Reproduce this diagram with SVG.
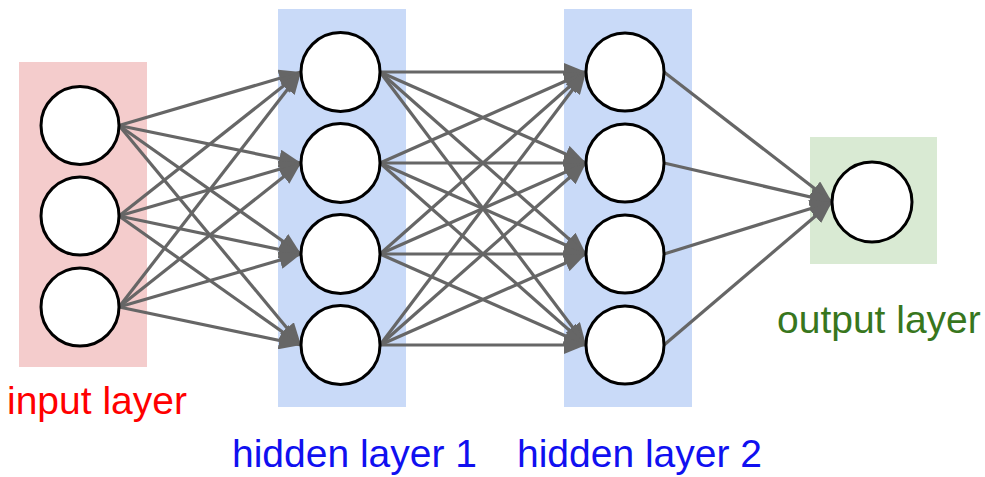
<svg xmlns="http://www.w3.org/2000/svg" width="985" height="477" viewBox="0 0 985 477">
<style>
.n{fill:#fff;stroke:#000;stroke-width:3}
.c line{stroke:#666;stroke-width:3.2;marker-end:url(#ah)}
.t{font-family:"Liberation Sans",Arial,sans-serif;font-size:39px}
</style>
<defs>
<marker id="ah" markerUnits="userSpaceOnUse" markerWidth="22" markerHeight="18" refX="22" refY="9" orient="auto" viewBox="0 0 22 18">
<path d="M0,0 L22,9 L0,18 z" fill="#666"/>
</marker>
</defs>
<rect width="985" height="477" fill="#fff"/>
<g id="layer-input"><rect x="19" y="62" width="128" height="305" fill="#f4cccc"/><text class="t" x="7" y="414" fill="#ff0000">input layer</text></g>
<g id="layer-hidden1"><rect x="278" y="9" width="128" height="398" fill="#c9daf8"/><text class="t" x="232" y="467" fill="#1010f0">hidden layer 1</text></g>
<g id="layer-hidden2"><rect x="564" y="9" width="128" height="398" fill="#c9daf8"/><text class="t" x="517" y="467" fill="#1010f0">hidden layer 2</text></g>
<g id="layer-output"><rect x="810" y="137" width="127" height="127" fill="#d9ead3"/><text class="t" x="777" y="333" fill="#38761d">output layer</text></g>
<g id="connectors" class="c">
<line x1="119" y1="125.5" x2="301" y2="72"/><line x1="119" y1="125.5" x2="301" y2="163"/><line x1="119" y1="125.5" x2="301" y2="254"/><line x1="119" y1="125.5" x2="301" y2="345"/>
<line x1="119" y1="216" x2="301" y2="72"/><line x1="119" y1="216" x2="301" y2="163"/><line x1="119" y1="216" x2="301" y2="254"/><line x1="119" y1="216" x2="301" y2="345"/>
<line x1="119" y1="307" x2="301" y2="72"/><line x1="119" y1="307" x2="301" y2="163"/><line x1="119" y1="307" x2="301" y2="254"/><line x1="119" y1="307" x2="301" y2="345"/>
<line x1="380" y1="72" x2="586" y2="72"/><line x1="380" y1="72" x2="586" y2="163"/><line x1="380" y1="72" x2="586" y2="254"/><line x1="380" y1="72" x2="586" y2="345"/>
<line x1="380" y1="163" x2="586" y2="72"/><line x1="380" y1="163" x2="586" y2="163"/><line x1="380" y1="163" x2="586" y2="254"/><line x1="380" y1="163" x2="586" y2="345"/>
<line x1="380" y1="254" x2="586" y2="72"/><line x1="380" y1="254" x2="586" y2="163"/><line x1="380" y1="254" x2="586" y2="254"/><line x1="380" y1="254" x2="586" y2="345"/>
<line x1="380" y1="345" x2="586" y2="72"/><line x1="380" y1="345" x2="586" y2="163"/><line x1="380" y1="345" x2="586" y2="254"/><line x1="380" y1="345" x2="586" y2="345"/>
<line x1="664" y1="72" x2="832" y2="202"/><line x1="664" y1="163" x2="832" y2="202"/><line x1="664" y1="254" x2="832" y2="202"/><line x1="664" y1="345" x2="832" y2="202"/>
</g>
<g id="in1"><circle class="n" cx="80" cy="125.5" r="39"/></g>
<g id="in2"><circle class="n" cx="80" cy="216" r="39"/></g>
<g id="in3"><circle class="n" cx="80" cy="307" r="39"/></g>
<g id="h1a"><circle class="n" cx="340.5" cy="72" r="39.5"/></g>
<g id="h1b"><circle class="n" cx="340.5" cy="163" r="39.5"/></g>
<g id="h1c"><circle class="n" cx="340.5" cy="254" r="39.5"/></g>
<g id="h1d"><circle class="n" cx="340.5" cy="345" r="39.5"/></g>
<g id="h2a"><circle class="n" cx="625" cy="72" r="39"/></g>
<g id="h2b"><circle class="n" cx="625" cy="163" r="39"/></g>
<g id="h2c"><circle class="n" cx="625" cy="254" r="39"/></g>
<g id="h2d"><circle class="n" cx="625" cy="345" r="39"/></g>
<g id="out"><circle class="n" cx="872" cy="202" r="40"/></g>
</svg>
